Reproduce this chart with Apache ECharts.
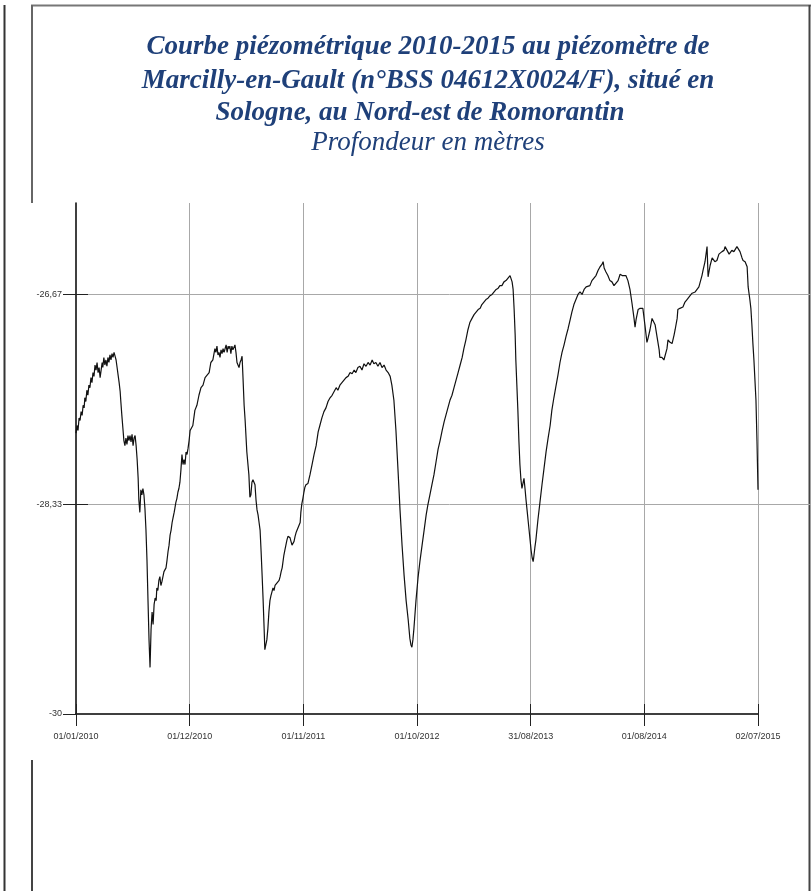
<!DOCTYPE html>
<html>
<head>
<meta charset="utf-8">
<script src="https://cdn.jsdelivr.net/npm/echarts@6/dist/echarts.min.js"></script>
<style>html,body{margin:0;padding:0;background:#fff}#c{width:811px;height:891px}</style>
</head>
<body>
<div id="c"></div>
<script>
// ---- text ----
const titleLines = [
  'Courbe piézométrique 2010-2015 au piézomètre de',
  'Marcilly-en-Gault (n°BSS 04612X0024/F), situé en',
  'Sologne, au Nord-est de Romorantin'
];
const subtitle = 'Profondeur en mètres';

// ---- axis ticks ----
const xTickLabels = ['01/01/2010', '01/12/2010', '01/11/2011', '01/10/2012', '31/08/2013', '01/08/2014', '02/07/2015'];
const xTickDays = [0, 334, 669, 1004, 1338, 1673, 2008]; // days since 01/01/2010
const yTickValues = [-30, -28.3333, -26.6667];
const yTickLabels = ['-30', '-28,33', '-26,67'];

// ---- series: days since 01/01/2010 and depth (m) ----
const days = [
  0,3,6,9,12,15,18,21,24,26,29,32,35,38,41,44,47,50,53,56,59,62,65,68,71,74,77,79,82,85,88,91,94,97,100,103,106,109,112,115,
  118,121,124,127,130,132,135,138,141,144,147,150,153,156,159,162,165,168,171,174,177,180,183,185,188,191,194,197,200,203,
  206,209,212,215,218,221,224,227,230,233,236,238,241,244,247,250,253,256,259,262,265,268,271,274,277,280,283,286,289,291,
  294,297,300,303,306,309,312,315,318,321,324,327,330,333,336,339,
  344,350,356,362,368,374,380,386,392,397,403,
  409,412,415,418,421,424,427,430,433,436,439,442,445,448,450,453,456,459,462,465,468,471,474,477,480,483,486,489,492,495,498,501,503,
  509,512,515,518,521,524,527,530,533,536,539,542,545,548,551,554,556,559,562,565,568,571,574,577,580,583,586,589,592,595,
  598,601,604,607,609,612,615,618,621,624,627,630,633,636,639,642,645,648,651,654,657,660,662,665,668,671,674,677,680,683,
  689,695,701,707,713,718,724,730,736,742,748,754,760,766,771,777,783,789,795,801,807,813,819,824,830,836,842,848,854,860,
  866,872,877,883,889,895,901,907,913,919,925,930,936,942,948,954,960,966,972,978,
  983,986,989,992,995,
  1001,1007,1013,1019,1025,1031,1036,1042,1048,1054,1060,1066,1072,1078,1084,1089,1095,1101,1107,1113,1119,1125,1131,1137,1142,
  1148,1154,1160,1166,1172,1178,1184,1190,1195,1201,1207,1213,1219,1225,1231,1237,1243,1248,1254,1260,1266,1272,1278,
  1284,1287,1290,1293,1295,1298,1301,1304,1307,1310,1313,1316,1319,1322,1325,1328,1331,1334,1337,1340,1343,1346,1348,1351,1354,
  1360,1366,1372,1378,1384,1390,1396,1401,1407,1413,1419,1425,1431,1437,1443,1449,1455,1460,1466,1472,1478,1484,1490,1496,1502,
  1507,1513,1519,1525,1531,1537,1543,1549,
  1552,1555,1560,1566,1572,1578,1584,1590,1596,1602,1608,1613,1619,1625,1631,1637,1643,
  1646,1649,1655,1661,1666,1669,1675,1681,1684,1690,1696,1699,1705,1711,1717,1719,1725,1731,1734,1740,1743,1749,1755,1761,1764,
  1770,1772,1778,1787,1793,1799,1808,1814,1823,1828,1834,1837,1843,1846,1852,1858,1861,1867,1873,1876,1881,1887,1893,1896,1902,
  1908,1911,1917,1923,1926,1931,1937,1940,1946,1949,1955,1961,1964,1970,1976,1979,1984,1987,1990,1993,1996,1999,2002,2005,2008
];
const depth = [
  -27.77,-27.71,-27.75,-27.65,-27.67,-27.60,-27.63,-27.55,-27.57,-27.49,-27.52,-27.43,-27.47,-27.39,-27.41,-27.33,-27.37,-27.29,-27.32,-27.23,
  -27.27,-27.21,-27.29,-27.25,-27.33,-27.27,-27.21,-27.25,-27.17,-27.23,-27.19,-27.24,-27.17,-27.21,-27.15,-27.19,-27.14,-27.17,-27.13,-27.16,
  -27.19,-27.25,-27.31,-27.37,-27.44,-27.52,-27.63,-27.73,-27.83,-27.87,-27.81,-27.86,-27.79,-27.83,-27.79,-27.84,-27.78,-27.87,-27.81,-27.79,
  -27.87,-27.98,-28.13,-28.30,-28.40,-28.22,-28.26,-28.21,-28.26,-28.37,-28.54,-28.78,-29.10,-29.41,-29.63,-29.33,-29.19,-29.29,-29.13,-29.08,
  -29.10,-29.00,-29.02,-28.94,-28.91,-28.98,-28.95,-28.94,-28.87,-28.86,-28.84,-28.78,-28.71,-28.66,-28.58,-28.54,-28.48,-28.44,-28.40,-28.37,
  -28.32,-28.29,-28.24,-28.21,-28.16,-28.06,-27.94,-28.02,-27.98,-28.02,-27.92,-27.94,-27.89,-27.83,-27.75,-27.76,
  -27.71,-27.59,-27.55,-27.47,-27.41,-27.39,-27.33,-27.31,-27.29,-27.21,-27.19,
  -27.10,-27.13,-27.08,-27.15,-27.13,-27.17,-27.11,-27.14,-27.10,-27.13,-27.13,-27.07,-27.13,-27.08,-27.10,-27.08,-27.14,-27.08,-27.11,-27.10,
  -27.07,-27.13,-27.21,-27.23,-27.25,-27.21,-27.19,-27.16,-27.35,-27.55,-27.67,-27.67,-27.92,
  -28.10,-28.28,-28.26,-28.16,-28.14,-28.16,-28.18,-28.30,-28.38,-28.42,-28.48,-28.54,-28.71,-28.90,-29.10,-29.33,-29.49,-29.48,-29.41,-29.32,
  -29.19,-29.10,-29.06,-29.03,-29.00,-29.02,-28.98,-28.98,-28.96,-28.95,-28.94,-28.91,-28.87,-28.84,-28.80,-28.74,-28.70,-28.66,-28.62,-28.59,
  -28.60,-28.60,-28.63,-28.66,-28.67,-28.63,-28.59,-28.56,-28.54,-28.52,-28.50,-28.48,-28.40,-28.33,-28.29,-28.24,-28.20,-28.18,-28.17,-28.17,
  -28.10,-28.02,-27.94,-27.87,-27.76,-27.71,-27.65,-27.60,-27.57,-27.52,-27.49,-27.47,-27.44,-27.41,-27.43,-27.39,-27.37,-27.35,-27.33,-27.32,
  -27.29,-27.30,-27.27,-27.29,-27.25,-27.24,-27.27,-27.22,-27.24,-27.21,-27.23,-27.19,-27.22,-27.21,-27.24,-27.21,-27.25,-27.23,-27.27,-27.29,
  -27.32,-27.39,-27.51,-27.75,-28.06,-28.38,-28.66,-28.90,-29.10,-29.25,
  -29.40,-29.45,-29.47,-29.41,-29.32,
  -29.10,-28.92,-28.78,-28.66,-28.54,-28.42,-28.34,-28.26,-28.18,-28.10,-28.00,-27.90,-27.83,-27.75,-27.68,-27.63,-27.57,-27.51,-27.47,-27.41,
  -27.35,-27.29,-27.23,-27.17,-27.10,-27.03,-26.95,-26.89,-26.86,-26.83,-26.81,-26.79,-26.78,-26.75,-26.73,-26.71,-26.70,-26.68,-26.67,-26.65,
  -26.63,-26.62,-26.60,-26.60,-26.57,-26.56,-26.54,-26.52,
  -26.57,-26.63,-26.79,-26.99,-27.19,-27.39,-27.59,-27.83,-28.02,-28.14,-28.21,-28.17,-28.13,-28.21,-28.30,-28.38,-28.46,-28.54,-28.62,-28.70,
  -28.76,-28.79,-28.75,-28.68,-28.62,
  -28.46,-28.32,-28.18,-28.05,-27.92,-27.81,-27.71,-27.59,-27.49,-27.40,-27.31,-27.21,-27.13,-27.07,-27.00,-26.94,-26.87,-26.81,-26.75,-26.71,
  -26.67,-26.65,-26.67,-26.63,-26.61,-26.62,-26.60,-26.56,-26.54,-26.52,-26.48,-26.45,-26.43,
  -26.41,-26.46,-26.49,-26.52,-26.56,-26.57,-26.60,-26.58,-26.56,-26.51,-26.52,-26.51,-26.52,-26.56,-26.63,-26.74,-26.86,
  -26.93,-26.87,-26.79,-26.78,-26.77,-26.78,-26.91,-27.05,-27.02,-26.95,-26.86,-26.85,-26.91,-27.01,-27.11,-27.17,-27.17,-27.19,-27.19,-27.10,
  -27.03,-27.05,-27.06,-26.99,-26.95,-26.86,-26.79,-26.78,-26.77,-26.73,-26.71,-26.68,-26.66,-26.65,-26.66,-26.61,-26.58,-26.52,-26.48,-26.41,
  -26.29,-26.53,-26.44,-26.38,-26.37,-26.41,-26.40,-26.35,-26.34,-26.33,-26.32,-26.29,-26.32,-26.35,-26.34,-26.32,-26.33,-26.32,-26.29,-26.28,
  -26.33,-26.38,-26.40,-26.41,-26.45,-26.61,-26.71,-26.78,-26.91,-27.06,-27.19,-27.35,-27.51,-27.83,-28.22
];

const n = Math.min(days.length, depth.length);
const seriesData = [];
for (let i = 0; i < n; i++) seriesData.push([days[i], depth[i]]);

const yMin = -30, yMax = -25.944, yStep = 5 / 3;
const xMin = 0, xMax = 2008, xStep = 2008 / 6;
const titleColor = '#1f4079';
const labelFont = { fontSize: 9, fontFamily: 'Liberation Sans', color: '#333' };

function yLabel(v) {
  for (let i = 0; i < yTickValues.length; i++) if (Math.abs(v - yTickValues[i]) < 0.01) return yTickLabels[i];
  return '';
}
function xLabel(v) {
  const i = Math.round(v / xStep);
  return Math.abs(i * xStep - v) < 1 ? (xTickLabels[i] || '') : '';
}

const chart = echarts.init(document.getElementById('c'), null, { renderer: 'canvas' });
chart.setOption({
  animation: false,
  backgroundColor: '#ffffff',
  grid: [
    { left: 76, top: 203, width: 682, height: 511 },
    { left: 88, top: 203, right: 0, height: 511 }
  ],
  xAxis: [
    { type: 'value', gridIndex: 0, min: xMin, max: xMax, interval: xStep, position: 'bottom',
      axisLine: { show: true, onZero: false, lineStyle: { color: '#000', width: 1.5 } },
      axisTick: { show: true, inside: false, length: 12, lineStyle: { color: '#222', width: 1 } },
      axisLabel: Object.assign({ show: true, margin: 18, formatter: xLabel, hideOverlap: false, showMinLabel: true, showMaxLabel: true }, labelFont),
      splitLine: { show: true, showMinLine: false, showMaxLine: true, lineStyle: { color: '#a8a8a8', width: 1 } } },
    { type: 'value', gridIndex: 0, min: xMin, max: xMax, interval: xStep, position: 'bottom',
      axisLine: { show: false, onZero: false },
      axisTick: { show: true, inside: true, length: 10, lineStyle: { color: '#222', width: 1 } },
      axisLabel: { show: false }, splitLine: { show: false } },
    { type: 'value', gridIndex: 1, show: false, min: 0, max: 1, splitLine: { show: false } }
  ],
  yAxis: [
    { type: 'value', gridIndex: 0, min: yMin, max: yMax, interval: yStep, position: 'left',
      axisLine: { show: true, onZero: false, lineStyle: { color: '#000', width: 1.5 } },
      axisTick: { show: true, inside: false, length: 13, customValues: yTickValues, lineStyle: { color: '#222', width: 1 } },
      axisLabel: Object.assign({ show: true, margin: 14, customValues: yTickValues, formatter: yLabel }, labelFont),
      splitLine: { show: false } },
    { type: 'value', gridIndex: 0, min: yMin, max: yMax, interval: yStep, position: 'left',
      axisLine: { show: false, onZero: false },
      axisTick: { show: true, inside: true, length: 12, customValues: yTickValues.slice(1), lineStyle: { color: '#222', width: 1 } },
      axisLabel: { show: false }, splitLine: { show: false } },
    { type: 'value', gridIndex: 1, min: yMin, max: yMax, interval: yStep,
      axisLine: { show: false }, axisTick: { show: false }, axisLabel: { show: false },
      splitLine: { show: true, showMinLine: false, showMaxLine: false, lineStyle: { color: '#a8a8a8', width: 1 } } }
  ],
  series: [{
    type: 'line', xAxisIndex: 0, yAxisIndex: 0, data: seriesData,
    showSymbol: false, symbol: 'none', smooth: false,
    lineStyle: { color: '#111', width: 1.2 }, z: 5
  }],
  graphic: [
    { type: 'line', shape: { x1: 4.5, y1: 5, x2: 4.5, y2: 891 }, style: { stroke: '#333', lineWidth: 2 } },
    { type: 'line', shape: { x1: 31, y1: 5.5, x2: 811, y2: 5.5 }, style: { stroke: '#777', lineWidth: 2 } },
    { type: 'line', shape: { x1: 32, y1: 5, x2: 32, y2: 203 }, style: { stroke: '#666', lineWidth: 2 } },
    { type: 'line', shape: { x1: 32, y1: 760, x2: 32, y2: 891 }, style: { stroke: '#444', lineWidth: 2 } },
    { type: 'line', shape: { x1: 809.5, y1: 5, x2: 809.5, y2: 891 }, style: { stroke: '#444', lineWidth: 2 } },
    { type: 'text', x: 428, y: 47, style: { text: titleLines[0], fill: titleColor, fontSize: 27, fontFamily: 'Liberation Serif', fontStyle: 'italic', fontWeight: 'bold', align: 'center', verticalAlign: 'middle' } },
    { type: 'text', x: 428, y: 81, style: { text: titleLines[1], fill: titleColor, fontSize: 27, fontFamily: 'Liberation Serif', fontStyle: 'italic', fontWeight: 'bold', align: 'center', verticalAlign: 'middle' } },
    { type: 'text', x: 420, y: 113, style: { text: titleLines[2], fill: titleColor, fontSize: 27, fontFamily: 'Liberation Serif', fontStyle: 'italic', fontWeight: 'bold', align: 'center', verticalAlign: 'middle' } },
    { type: 'text', x: 428, y: 143, style: { text: subtitle, fill: titleColor, fontSize: 27, fontFamily: 'Liberation Serif', fontStyle: 'italic', fontWeight: 'normal', align: 'center', verticalAlign: 'middle' } }
  ]
});
</script>
</body>
</html>
